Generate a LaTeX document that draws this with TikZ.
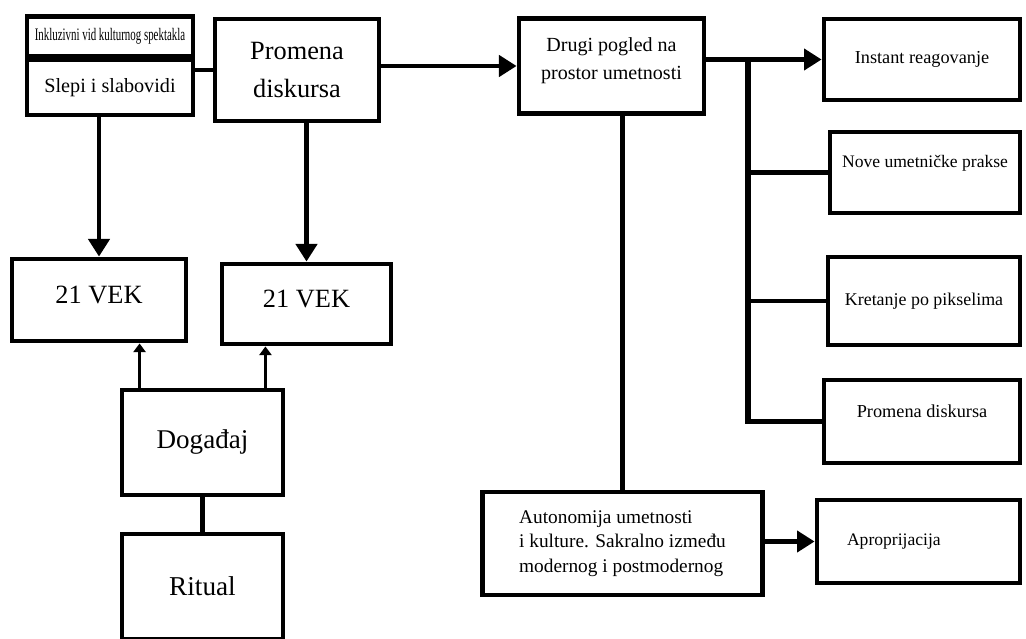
\documentclass[tikz,border=0pt]{standalone}
\usepackage{fontspec}
\setmainfont{Liberation Serif}
\usetikzlibrary{arrows.meta,positioning}

\begin{document}
\begin{tikzpicture}[
        x=0.02cm, y=-0.02cm,
        box/.style={rectangle, draw=black, line width=2.8pt, fill=white, inner sep=2pt, align=center},
        line/.style={line width=2.3pt, black},
        arrow/.style={line, -{Triangle[length=10pt,width=12pt]}},
        smallarrow/.style={line width=1.8pt, black, -{Triangle[length=5pt,width=7pt]}}
    ]
        \useasboundingbox (0,0) rectangle (1026,638);

        % Left part
        \node[box, minimum width=3.32cm, minimum height=0.8cm] (inkl) at (110,36.5) {\scalebox{0.62}[1]{\fontsize{10}{12}\selectfont Inkluzivni vid kulturnog spektakla}};
        \node[box, minimum width=3.32cm, minimum height=1.1cm, font=\fontsize{11.5}{13}\selectfont] (slepi) at (110,87.5) {Slepi i slabovidi};
        \node[box, minimum width=3.28cm, minimum height=2.04cm, font=\fontsize{15}{22}\selectfont] (promena) at (297,70) {Promena\\diskursa};
        \node[box, minimum width=3.48cm, minimum height=1.64cm, text depth=6pt, font=\fontsize{15}{18}\selectfont] (vek1) at (99,300) {21 VEK};
        \node[box, minimum width=3.38cm, minimum height=1.6cm, text depth=6pt, font=\fontsize{15}{18}\selectfont] (vek2) at (306.5,304) {21 VEK};
        \node[box, minimum width=3.22cm, minimum height=2.1cm, font=\fontsize{15.4}{18}\selectfont] (dogadjaj) at (202.5,442.5) {Događaj};
        \node[box, minimum width=3.22cm, minimum height=2.1cm, font=\fontsize{15.5}{18}\selectfont] (ritual) at (202.5,586.5) {Ritual};

        % Middle
        \node[box, minimum width=3.7cm, minimum height=1.9cm, text depth=8pt, font=\fontsize{11.4}{16}\selectfont] (drugi) at (611.5,66) {Drugi pogled na\\prostor umetnosti};
        \node[box, minimum width=5.6cm, minimum height=2.06cm, align=left, font=\fontsize{11}{14}\selectfont] (autonomija) at (622.5,543.5) {Autonomija umetnosti\\i kulture. Sakralno između\\modernog i postmodernog};

        % Right column
        \node[box, minimum width=3.92cm, minimum height=1.62cm, font=\fontsize{10.4}{12}\selectfont] (instant) at (922,59.5) {Instant reagovanje};
        \node[box, minimum width=3.8cm, minimum height=1.62cm, text depth=13pt, font=\fontsize{10}{12}\selectfont] (nove) at (925,172.5) {Nove umetničke prakse};
        \node[box, minimum width=3.84cm, minimum height=1.76cm, font=\fontsize{10.2}{12}\selectfont] (kretanje) at (924,301) {Kretanje po pikselima};
        \node[box, minimum width=3.92cm, minimum height=1.66cm, text depth=11.5pt, font=\fontsize{10.4}{12}\selectfont] (promenaR) at (922,421.5) {Promena diskursa};
        \node[box, minimum width=4.06cm, minimum height=1.66cm, text width=2.86cm, align=left, font=\fontsize{10}{12}\selectfont] (aprop) at (918.5,541.5) {Aproprijacija};

        \coordinate (branch) at (748,0 |- instant.west);

        % Connectors
        \draw[line] (slepi.east |- promena.west) -- (promena.west);
        \draw[arrow] (promena.east |- drugi.west) -- (drugi.west);
        \draw[arrow] (drugi.east |- instant.west) -- (instant.west);
        \draw[line] (branch) |- (nove.west);
        \draw[line] (branch) |- (kretanje.west);
        \draw[line, line width=3pt] (branch) |- (promenaR.west);
        \draw[line] (drugi.south -| autonomija.north) -- (autonomija.north);
        \draw[arrow] (autonomija.east |- aprop.west) -- (aprop.west);
        \draw[arrow] (slepi.south -| vek1.north) -- (vek1.north);
        \draw[arrow] (promena.south -| vek2.north) -- (vek2.north);
        \draw[smallarrow] ([xshift=0.4cm]dogadjaj.north west) -- ([xshift=0.4cm]dogadjaj.north west |- vek1.south);
        \draw[smallarrow] ([xshift=-0.4cm]dogadjaj.north east) -- ([xshift=-0.4cm]dogadjaj.north east |- vek2.south);
        \draw[line, line width=3pt] (dogadjaj) -- (ritual);
    \end{tikzpicture}
\end{document}
